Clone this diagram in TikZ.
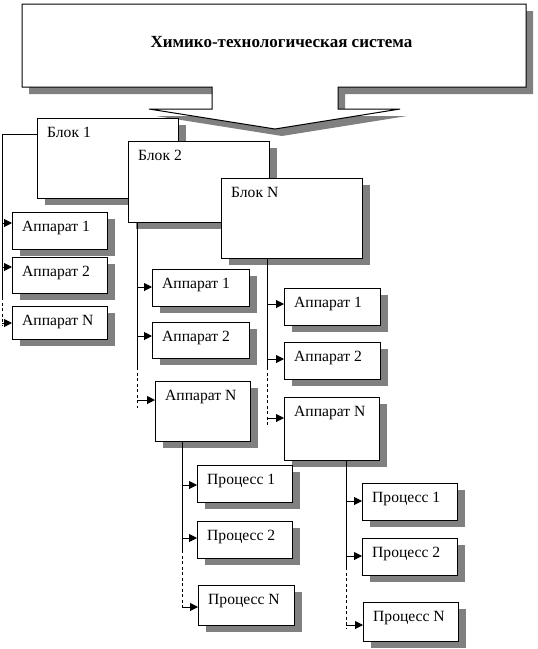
\documentclass[tikz,border=0pt]{standalone}
\usepackage{fontspec}
\setmainfont{Liberation Serif}
\usetikzlibrary{arrows.meta}
\definecolor{shd}{RGB}{128,128,128}
\tikzset{
  boxst/.style={draw=black, fill=white, line width=1pt, inner sep=0pt, outer sep=0pt},
  lbl/.style={inner sep=0pt, font=\fontsize{15.6}{18}\selectfont},
  ttl/.style={inner sep=0pt, font=\fontsize{17}{20}\selectfont\bfseries},
  conn/.style={line width=1pt},
  dsh/.style={line width=1pt, dash pattern=on 3pt off 2.5pt},
  arr/.style={line width=1pt, -{Triangle[length=8pt,width=8pt]}},
}
\newcommand\shbox[6]{%
  \fill[shd] (#2+8,#3+7) rectangle (#4+8,#5+7);
  \node[boxst,anchor=north west,minimum width={(#4-#2)*1pt},minimum height={(#5-#3)*1pt}] (#1) at (#2,#3) {};
  \node[lbl,anchor=base west] (#1t) at (#2+10,#3+19) {#6};
}
\begin{document}
\begin{tikzpicture}[x=1pt,y=-1pt]
\useasboundingbox (0,0) rectangle (538,649);
% callout
\fill[shd, shift={(7,7)}] (22,4) -- (526,4) -- (526,87) -- (338,87) -- (338,109) -- (400,109) -- (275,129) -- (149,109) -- (212,109) -- (212,87) -- (22,87) -- cycle;
\draw[boxst] (22,4) -- (526,4) -- (526,87) -- (338,87) -- (338,109) -- (400,109) -- (275,129) -- (149,109) -- (212,109) -- (212,87) -- (22,87) -- cycle;
\node[ttl,anchor=base] (title) at (281.5,47) {Химико-технологическая система};
% blocks
\shbox{b1}{37}{118}{178}{198}{Блок 1}
\shbox{b2}{128}{141}{269}{222}{Блок 2}
\shbox{b3}{221}{178}{362}{258}{Блок N}
% apparatus
\shbox{a11}{12}{212}{107}{249}{Аппарат 1}
\shbox{a12}{12}{257}{107}{293}{Аппарат 2}
\shbox{a1n}{12}{306}{107}{339}{Аппарат N}
\shbox{a21}{152}{269}{249}{306}{Аппарат 1}
\shbox{a22}{152}{322}{249}{358}{Аппарат 2}
\shbox{a2n}{155}{381}{250}{441}{Аппарат N}
\shbox{a31}{284}{288}{380}{325}{Аппарат 1}
\shbox{a32}{284}{342}{380}{379}{Аппарат 2}
\shbox{a3n}{284}{397}{379}{460}{Аппарат N}
% processes
\shbox{p11}{197}{465}{292}{502}{Процесс 1}
\shbox{p12}{197}{521}{292}{558}{Процесс 2}
\shbox{p1n}{198}{585}{294}{625}{Процесс N}
\shbox{p21}{362}{483}{457}{520}{Процесс 1}
\shbox{p22}{362}{538}{457}{575}{Процесс 2}
\shbox{p2n}{363}{602}{458}{641}{Процесс N}
% connectors column 1
\coordinate (v1) at (2,134);
\coordinate (v1d) at (2,297);
\coordinate (v1e) at (2,325);
\draw[conn] (b1.west |- v1) -- (v1) -- (v1d);
\draw[dsh] (v1d) -- (v1e);
\draw[arr] (v1 |- 0,223) -- (a11.west |- 0,223);
\draw[arr] (v1 |- 0,267) -- (a12.west |- 0,267);
\draw[arr] (v1 |- 0,323) -- (a1n.west |- 0,323);
% column 2
\coordinate (v2) at (137,222);
\coordinate (v2d) at (137,367);
\coordinate (v2e) at (137,408);
\draw[conn] (b2.south -| v2) -- (v2d);
\draw[dsh] (v2d) -- (v2e);
\draw[arr] (v2 |- 0,287) -- (a21.west |- 0,287);
\draw[arr] (v2 |- 0,336) -- (a22.west |- 0,336);
\draw[arr] (v2 |- 0,400) -- (a2n.west |- 0,400);
% column 3
\coordinate (v3) at (267,258);
\coordinate (v3d) at (267,367);
\coordinate (v3e) at (267,427);
\draw[conn] (b3.south -| v3) -- (v3d);
\draw[dsh] (v3d) -- (v3e);
\draw[arr] (v3 |- 0,304) -- (a31.west |- 0,304);
\draw[arr] (v3 |- 0,359) -- (a32.west |- 0,359);
\draw[arr] (v3 |- 0,418) -- (a3n.west |- 0,418);
% processes left
\coordinate (v4) at (182,441);
\coordinate (v4d) at (182,550);
\coordinate (v4e) at (182,610);
\draw[conn] (a2n.south -| v4) -- (v4d);
\draw[dsh] (v4d) -- (v4e);
\draw[arr] (v4 |- 0,485) -- (p11.west |- 0,485);
\draw[arr] (v4 |- 0,538) -- (p12.west |- 0,538);
\draw[arr] (v4 |- 0,607) -- (p1n.west |- 0,607);
% processes right
\coordinate (v5) at (346,460);
\coordinate (v5d) at (346,567);
\coordinate (v5e) at (346,628);
\draw[conn] (a3n.south -| v5) -- (v5d);
\draw[dsh] (v5d) -- (v5e);
\draw[arr] (v5 |- 0,501) -- (p21.west |- 0,501);
\draw[arr] (v5 |- 0,556) -- (p22.west |- 0,556);
\draw[arr] (v5 |- 0,625) -- (p2n.west |- 0,625);
\end{tikzpicture}
\end{document}
